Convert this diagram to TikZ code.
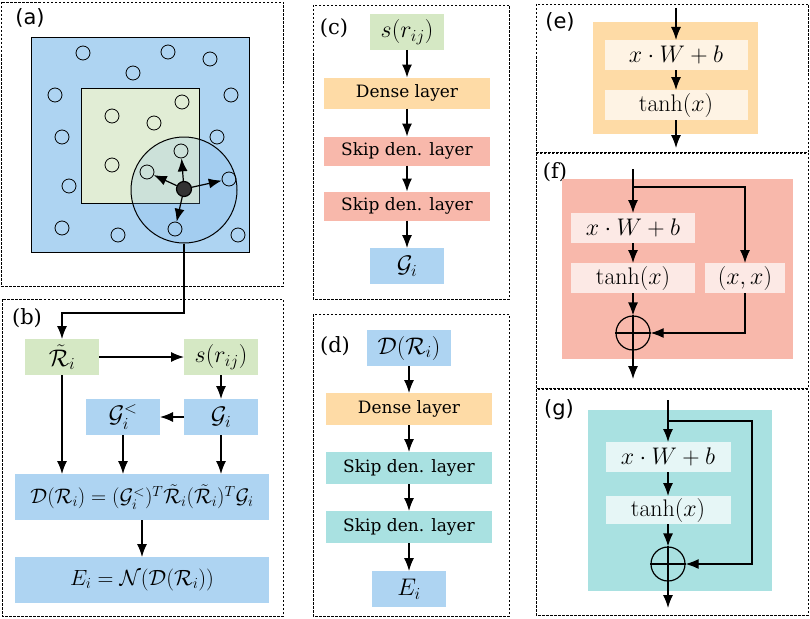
\RequirePackage{fix-cm}
\documentclass[tikz,border=0pt]{standalone}
\usepackage[no-math]{fontspec}
\setmainfont{DejaVu Serif}
\newfontfamily\labelsans{DejaVu Sans}
\usepackage{amsmath}
\usetikzlibrary{arrows.meta, positioning}

\definecolor{boxblue}{HTML}{AED4F2}
\definecolor{boxgreen}{HTML}{D5E8C4}
\definecolor{boxorange}{HTML}{FEDBA6}
\definecolor{boxsalmon}{HTML}{F8B8AB}
\definecolor{boxcyan}{HTML}{A9E1E1}
\definecolor{cellgreen}{HTML}{E1EDD5}
\definecolor{lightorange}{HTML}{FEF3E4}
\definecolor{lightsalmon}{HTML}{FCE9E5}
\definecolor{lightcyan}{HTML}{E6F6F6}
\definecolor{atomgray}{HTML}{333333}

\tikzset{
	panel/.style={draw, line width=0.9pt, dash pattern=on 2.5pt off 1.5pt},
	panel label/.style={inner sep=0pt, font=\fontsize{21}{25}\selectfont},
	every box/.style={inner sep=0pt, outer sep=0pt, draw=none,
		font=\fontsize{24}{28}\selectfont},
	box small/.style={minimum width=74pt, minimum height=36pt},
	box wide/.style={minimum width=254pt, minimum height=46pt},
	box layer/.style={minimum width=166pt, minimum height=31pt,
		font=\fontsize{17}{20}\selectfont},
	box inner/.style={inner sep=0pt, outer sep=0pt, minimum height=30pt,
		font=\fontsize{24}{28}\selectfont},
	atom/.style={circle, draw, line width=0.8pt, minimum size=14pt, inner sep=0pt},
	plus/.style={circle, draw, line width=1.2pt, minimum size=34pt, inner sep=0pt},
}

\begin{document}
\begin{tikzpicture}[x=1pt, y=-1pt, >={Latex[length=13pt, width=10pt]},
	line width=1.2pt]

		\useasboundingbox (0,0) rectangle (810,618);

		% Panels
		\draw [panel] (1,2) rectangle (283,286);
		\draw [panel] (2,299) rectangle (283,616);
		\draw [panel] (313,5) rectangle (509,299);
		\draw [panel] (313,314) rectangle (509,616);
		\draw [panel] (536,4) rectangle (808,152);
		\draw [panel] (536,153) rectangle (808,388);
		\draw [panel] (536,389) rectangle (808,615);

		\node [panel label] (lab-a) at (30,18) {\labelsans (a)};
		\node [panel label] (lab-b) at (27,318) {(b)};
		\node [panel label] (lab-c) at (334,28) {(c)};
		\node [panel label] (lab-d) at (335,346) {(d)};
		\node [panel label] (lab-e) at (560,22) {\labelsans (e)};
		\node [panel label] (lab-f) at (555,172) {(f)};
		\node [panel label] (lab-g) at (559,410) {\labelsans (g)};

		% (a) cell and cut-off sphere
		\draw [fill=boxblue, line width=1pt] (31,38) rectangle (249,252);
		\draw [fill=cellgreen, line width=1pt] (81,88) rectangle (199,203);
		\node [circle, draw, line width=1pt, minimum size=106pt, inner sep=0pt,
			fill={rgb,255:red,120;green,180;blue,235}, fill opacity=0.2]
			(cut) at (184,190) {};
		\foreach \px/\py [count=\i] in {83/53, 168/52, 210/59, 133/73, 55/95,
			231/95, 182/102, 112/116, 154/123, 62/137, 217/137, 181/151,
			112/165, 147/172, 229/179, 69/186, 62/228, 118/235, 175/229, 238/235}
			\node [atom] (p-\i) at (\px,\py) {};
		\node [circle, draw, fill=atomgray, minimum size=15pt, inner sep=0pt]
			(ctr) at (184,189) {};
		\foreach \k in {12, 14, 15, 19}
			\draw [->] (ctr) -- (p-\k);

		% (b)
		\node [every box/.try, box small/.try, fill=boxgreen] (Rt) at (62,357) {
			$\tilde{\mathcal{R}}_i$
		};
		\node [every box/.try, box small/.try, fill=boxgreen, right of=Rt,
			node distance=159pt] (sr) {
			$s(r_{ij})$
		};
		\node [every box/.try, box small/.try, fill=boxblue] (Gi) at (221,417) {
			$\mathcal{G}_i$
		};
		\node [every box/.try, box small/.try, fill=boxblue] (Gl) at (123,417) {
			$\mathcal{G}_i^<$
		};
		\node [every box/.try, box wide/.try, fill=boxblue,
			font=\fontsize{21}{25}\selectfont] (Dr) at (142,497) {
			$\mathcal{D}(\mathcal{R}_i) = (\mathcal{G}_i^<)^T
			\tilde{\mathcal{R}}_i(\tilde{\mathcal{R}}_i)^T\mathcal{G}_i$
		};
		\node [every box/.try, box wide/.try, fill=boxblue,
			font=\fontsize{22}{26}\selectfont] (Ei) at (142,580) {
			$E_i = \mathcal{N}(\mathcal{D}(\mathcal{R}_i))$
		};

		\coordinate (bend) at (62,313);
		\draw [->] (cut.south) |- (bend) -- (Rt.north);
		\draw [->] (Rt) -- (sr);
		\draw [->] (sr) -- (Gi);
		\draw [->] (Gi) -- (Gl);
		\foreach \n in {Rt, Gl, Gi}
			\draw [->] (\n.south) -- (\n.south |- Dr.north);
		\draw [->] (Dr) -- (Ei);

		% (c) embedding net
		\node [every box/.try, box small/.try, fill=boxgreen] (c-1) at (407,32) {
			$s(r_{ij})$
		};
		\node [every box/.try, box layer/.try, fill=boxorange] (c-2) at (407,93) {
			Dense layer
		};
		\node [every box/.try, box layer/.try, fill=boxsalmon,
			minimum height=29pt] (c-3) at (407,151) {
			Skip den. layer
		};
		\node [every box/.try, box layer/.try, fill=boxsalmon,
			minimum height=29pt] (c-4) at (407,206) {
			Skip den. layer
		};
		\node [every box/.try, box small/.try, fill=boxblue] (c-5) at (407,266) {
			$\mathcal{G}_i$
		};

		% (d) fitting net
		\node [every box/.try, box small/.try, fill=boxblue,
			minimum width=84pt] (d-1) at (409,348) {
			$\mathcal{D}(\mathcal{R}_i)$
		};
		\node [every box/.try, box layer/.try, fill=boxorange,
			minimum height=32pt] (d-2) at (409,409) {
			Dense layer
		};
		\node [every box/.try, box layer/.try, fill=boxcyan,
			minimum height=32pt] (d-3) at (409,468) {
			Skip den. layer
		};
		\node [every box/.try, box layer/.try, fill=boxcyan,
			minimum height=32pt] (d-4) at (409,527) {
			Skip den. layer
		};
		\node [every box/.try, box small/.try, fill=boxblue] (d-5) at (409,589) {
			$E_i$
		};

		\foreach \l [count=\i] in {2, 3, 4, 5} {
			\draw [->] (c-\i) -- (c-\l);
			\draw [->] (d-\i) -- (d-\l);
		}

		% (e) dense layer
		\node [fill=boxorange, minimum width=165pt, minimum height=112pt]
			(e-bg) at (675.5,78) {};
		\node [box inner/.try, fill=lightorange, minimum width=143pt] (eW) at (676,55) {
			$x\cdot W+b$
		};
		\node [box inner/.try, fill=lightorange, minimum width=143pt] (eT) at (676,105) {
			$\tanh(x)$
		};
		\coordinate (e-in) at (676,8);
		\coordinate (e-out) at (676,148);
		\draw [->] (e-in) -- (eW);
		\draw [->] (eW) -- (eT);
		\draw [->] (eT) -- (e-out);

		% (f) skip dense layer, doubled
		\node [fill=boxsalmon, minimum width=231pt, minimum height=180pt]
			(f-bg) at (677.5,269) {};
		\node [box inner/.try, fill=lightsalmon, minimum width=124pt] (fW) at (633,228) {
			$x\cdot W+b$
		};
		\node [box inner/.try, fill=lightsalmon, minimum width=124pt] (fT) at (633,278) {
			$\tanh(x)$
		};
		\node [box inner/.try, fill=lightsalmon, minimum width=80pt] (fX) at (745,278) {
			$(x,x)$
		};
		\node [plus] (fplus) at (633,333) {};
		\draw [line width=1.2pt] (fplus.north) -- (fplus.south)
			(fplus.west) -- (fplus.east);
		\coordinate (f-in) at (633,169);
		\coordinate (f-split) at (633,187);
		\coordinate (f-out) at (633,379);
		\draw [->] (f-in) -- (fW);
		\draw [->] (fW) -- (fT);
		\draw [->] (fT) -- (fplus);
		\draw [->] (fplus) -- (f-out);
		\draw [->] (f-split) -| (fX);
		\draw [->] (fX) |- (fplus);

		% (g) skip dense layer
		\node [fill=boxcyan, minimum width=184pt, minimum height=181pt]
			(g-bg) at (680,500.5) {};
		\node [box inner/.try, fill=lightcyan, minimum width=125pt] (gW) at (668,457) {
			$x\cdot W+b$
		};
		\node [box inner/.try, fill=lightcyan, minimum width=125pt,
			minimum height=28pt] (gT) at (668,510) {
			$\tanh(x)$
		};
		\node [plus] (gplus) at (668,564) {};
		\draw [line width=1.2pt] (gplus.north) -- (gplus.south)
			(gplus.west) -- (gplus.east);
		\coordinate (g-in) at (668,400);
		\coordinate (g-split) at (668,421);
		\coordinate (g-corner) at (752,421);
		\coordinate (g-out) at (668,608);
		\draw [->] (g-in) -- (gW);
		\draw [->] (gW) -- (gT);
		\draw [->] (gT) -- (gplus);
		\draw [->] (gplus) -- (g-out);
		\draw [->] (g-split) -- (g-corner) |- (gplus);

	\end{tikzpicture}
\end{document}
